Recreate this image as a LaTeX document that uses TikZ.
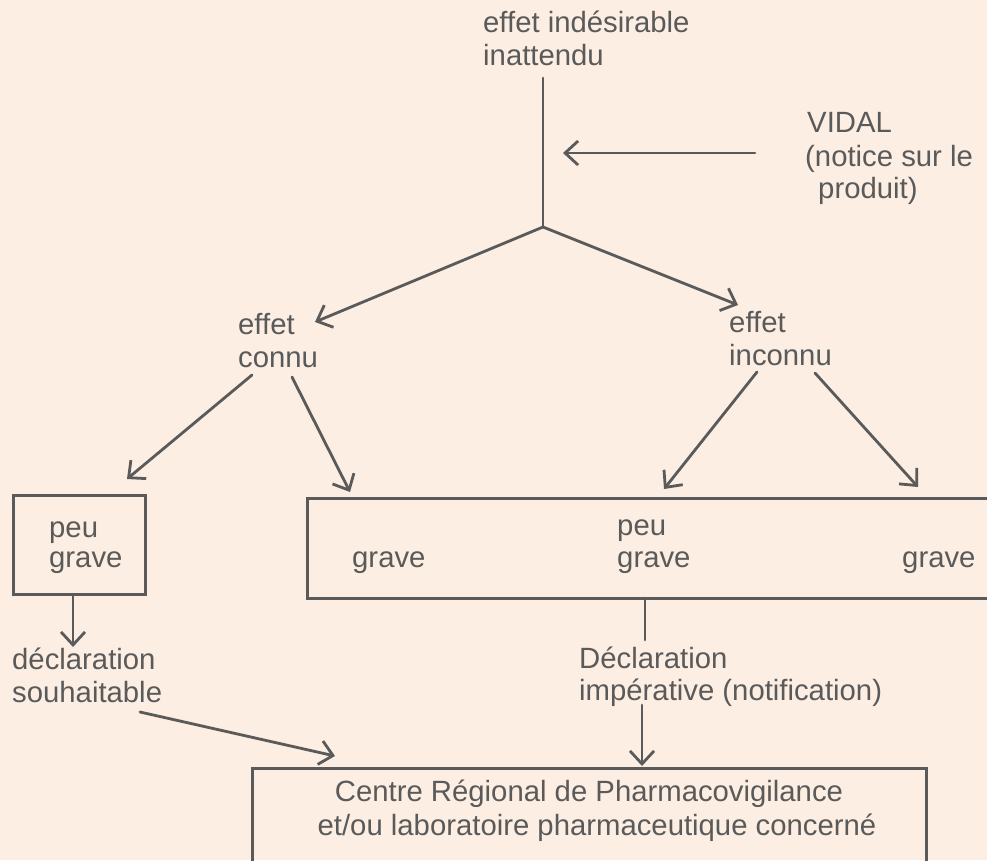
\documentclass[tikz,border=0pt]{standalone}
\usepackage{fontspec}
\setmainfont{Liberation Sans}
\usetikzlibrary{arrows.meta}
\definecolor{paper}{HTML}{FCEEE2}
\definecolor{ink}{HTML}{5A5A5A}
\tikzset{
  lbl/.style={anchor=base west, inner sep=0pt, text=ink,
    font=\fontsize{29.3}{33}\selectfont},
  conn/.style={draw=ink, line width=2.8pt, line cap=round, line join=round},
  arr/.style={conn, -{Straight Barb[length=13pt,width=24pt,line width=2.8pt]}},
  boxline/.style={draw=ink, line width=3pt}
}
\begin{document}
\begin{tikzpicture}[x=1pt,y=-1pt]
  % page and background
  \fill[paper] (0,0) rectangle (987,860);
  \useasboundingbox (0,0) rectangle (987,860);
  \clip (0,0) rectangle (987,860);

  % boxes
  \draw[boxline] (13,495) rectangle (145,594);
  \draw[boxline] (307,498) rectangle (1010,598);
  \draw[boxline] (252,768) rectangle (926,890);

  % labels
  \node[lbl] (t1) at (483,32) {effet indésirable};
  \node[lbl] (t2) at (483,65) {inattendu};
  \node[lbl] (v1) at (807,132) {VIDAL};
  \node[lbl] (v2) at (805,166) {(notice sur le};
  \node[lbl] (v3) at (818,198) {produit)};
  \node[lbl] (c1) at (238,334) {effet};
  \node[lbl] (c2) at (238,367) {connu};
  \node[lbl] (i1) at (729,332) {effet};
  \node[lbl] (i2) at (729,365) {inconnu};
  \node[lbl] (pg1) at (49,537) {peu};
  \node[lbl] (pg2) at (49,567) {grave};
  \node[lbl] (g1) at (352,567) {grave};
  \node[lbl] (pg3) at (617,535) {peu};
  \node[lbl] (pg4) at (617,567) {grave};
  \node[lbl] (g2) at (902,567) {grave};
  \node[lbl] (d1) at (12,669) {déclaration};
  \node[lbl] (d2) at (12,702) {souhaitable};
  \node[lbl] (n1) at (579,668) {Déclaration};
  \node[lbl] (n2) at (579,700) {impérative (notification)};
  \node[lbl, anchor=base] (cr1) at (589,801) {Centre Régional de Pharmacovigilance};
  \node[lbl, anchor=base] (cr2) at (597,835) {et/ou laboratoire pharmaceutique concerné};

  % connector end points
  \coordinate (stemtop) at (543,78);
  \coordinate (fork) at (543,227);
  \coordinate (vidalin) at (755,153);
  \coordinate (vidalout) at (563,153);
  \coordinate (kn) at (315,322);
  \coordinate (unk) at (738,305);
  \coordinate (kna) at (252,375);
  \coordinate (knb) at (127,479);
  \coordinate (knc) at (292,377);
  \coordinate (knd) at (350,492);
  \coordinate (una) at (757,372);
  \coordinate (unb) at (664,489);
  \coordinate (unc) at (815,373);
  \coordinate (und) at (918,487);
  \coordinate (lba) at (73,595);
  \coordinate (lbb) at (73,647);
  \coordinate (bba) at (645,598);
  \coordinate (bbb) at (645,640);
  \coordinate (ima) at (642,705);
  \coordinate (imb) at (642,766);
  \coordinate (sha) at (140,712);
  \coordinate (shb) at (335,756);

  % connectors
  \draw[conn] (stemtop) -- (fork);
  \draw[arr] (vidalin) -- (vidalout);
  \draw[arr] (fork) -- (kn);
  \draw[arr] (fork) -- (unk);
  \draw[arr] (kna) -- (knb);
  \draw[arr] (knc) -- (knd);
  \draw[arr] (una) -- (unb);
  \draw[arr] (unc) -- (und);
  \draw[arr] (lba) -- (lbb);
  \draw[conn] (bba) -- (bbb);
  \draw[arr] (ima) -- (imb);
  \draw[arr] (sha) -- (shb);
\end{tikzpicture}
\end{document}
